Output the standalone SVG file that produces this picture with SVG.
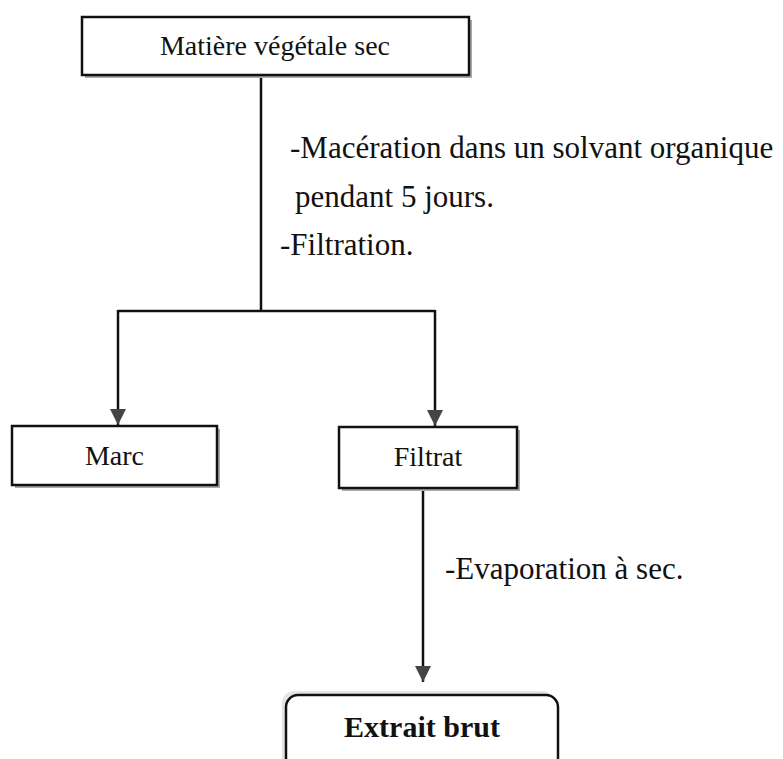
<svg xmlns="http://www.w3.org/2000/svg" width="783" height="759" viewBox="0 0 783 759">
<defs>
<style>
.box{fill:#fff;stroke:#111;stroke-width:2.5}
.shadow{fill:#aaa}
.t{font-family:"Liberation Serif","Times New Roman",serif;fill:#111}
.lbl{font-size:28px;text-anchor:middle}
.ann{font-size:31px}
.line{stroke:#111;stroke-width:2.5;fill:none}
</style>
<marker id="arr" viewBox="0 0 16 16" refX="16" refY="8" markerWidth="16" markerHeight="16" markerUnits="userSpaceOnUse" orient="auto">
<path d="M0,0 L16,8 L0,16 Z" fill="#444"/>
</marker>
</defs>
<rect width="783" height="759" fill="#fff"/>
<g id="connectors">
<line class="line" x1="261" y1="75" x2="261" y2="311"/>
<line class="line" x1="118" y1="311" x2="435" y2="311"/>
<line class="line" x1="118" y1="310" x2="118" y2="425" marker-end="url(#arr)"/>
<line class="line" x1="435" y1="310" x2="435" y2="426" marker-end="url(#arr)"/>
<line class="line" x1="423" y1="488" x2="423" y2="682" marker-end="url(#arr)"/>
</g>
<g id="node-matiere">
<rect class="shadow" x="85" y="20" width="387" height="58"/>
<rect class="box" x="82" y="17" width="387" height="58"/>
<text class="t lbl" x="275" y="55">Matière végétale sec</text>
</g>
<g id="label-maceration">
<text class="t ann" x="290" y="158">-Macération dans un solvant organique</text>
<text class="t ann" x="295" y="207">pendant 5 jours.</text>
<text class="t ann" x="280" y="255">-Filtration.</text>
</g>
<g id="node-marc">
<rect class="shadow" x="15" y="429" width="205" height="59"/>
<rect class="box" x="12" y="426" width="205" height="59"/>
<text class="t lbl" x="114.5" y="465">Marc</text>
</g>
<g id="node-filtrat">
<rect class="shadow" x="342" y="430" width="178" height="61"/>
<rect class="box" x="339" y="427" width="178" height="61"/>
<text class="t lbl" x="428" y="466">Filtrat</text>
</g>
<g id="label-evaporation">
<text class="t ann" x="445" y="579">-Evaporation à sec.</text>
</g>
<g id="node-extrait">
<rect x="282" y="691" width="272" height="90" rx="12" fill="#e4e4e4"/>
<rect class="box" x="286" y="695" width="272" height="90" rx="12"/>
<text class="t" x="422" y="737" font-size="30" font-weight="bold" text-anchor="middle">Extrait brut</text>
</g>
</svg>
